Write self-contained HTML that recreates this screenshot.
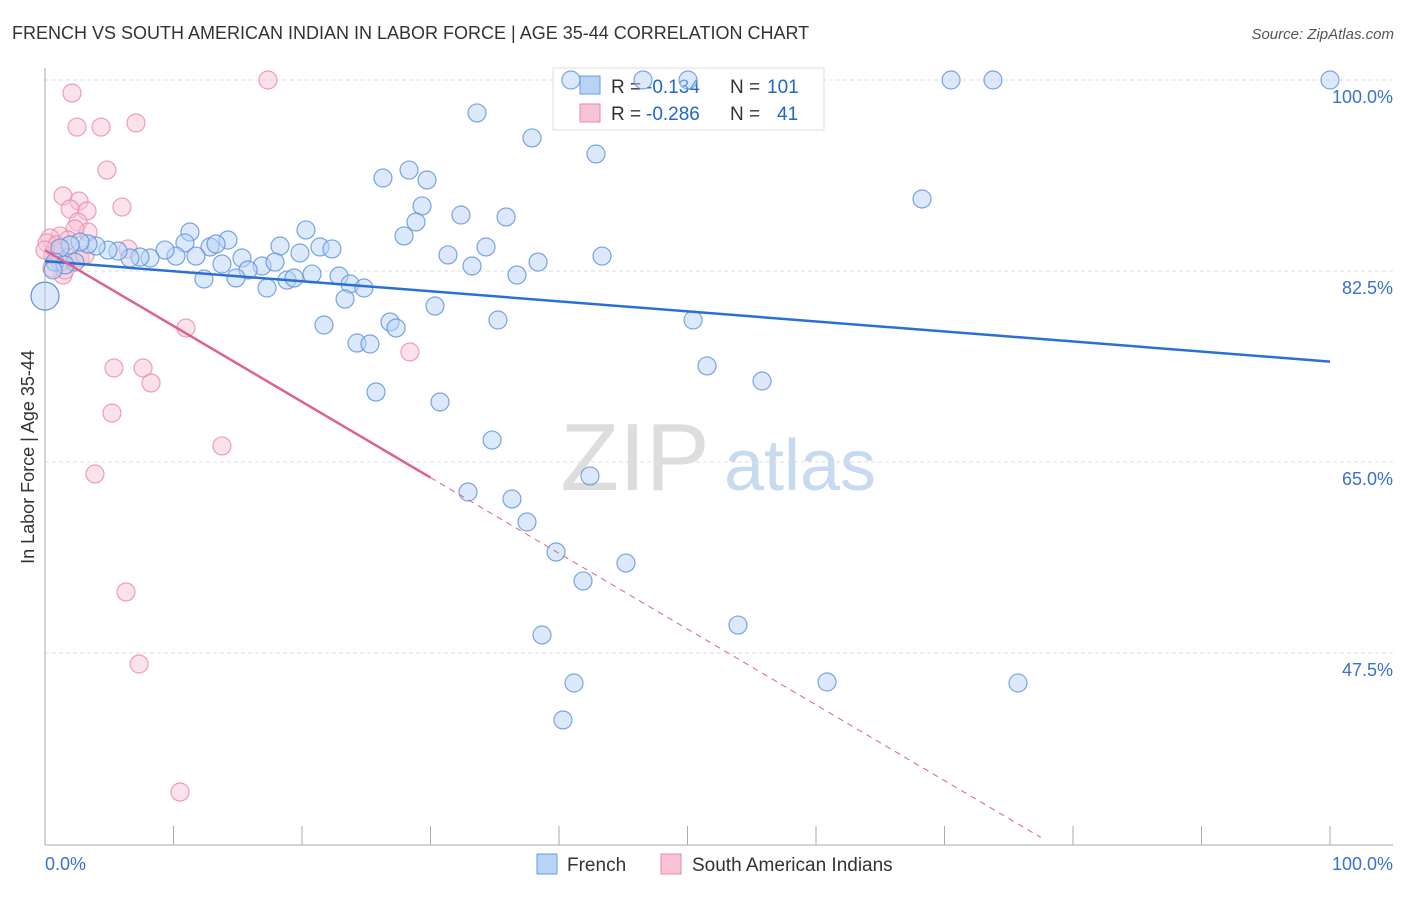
<!DOCTYPE html>
<html><head><meta charset="utf-8"><style>
body{margin:0;background:#fff;font-family:"Liberation Sans",sans-serif}
svg text{font-family:"Liberation Sans",sans-serif}
</style></head><body>
<svg id="c" width="1406" height="892">
<text x="12" y="39" font-size="18" fill="#333">FRENCH VS SOUTH AMERICAN INDIAN IN LABOR FORCE | AGE 35-44 CORRELATION CHART</text>
<text x="1394" y="39" font-size="15" fill="#555" text-anchor="end" font-style="italic">Source: ZipAtlas.com</text>
<text x="34" y="457" font-size="18" fill="#333" text-anchor="middle" transform="rotate(-90 34 457)">In Labor Force | Age 35-44</text>
<g><text x="635" y="490" font-size="96" fill="#ddd" font-family="Liberation Serif" text-anchor="middle">ZIP</text><text x="800" y="490" font-size="72" fill="#c8daf0" text-anchor="middle">atlas</text></g>
<g id="grid"></g>
<g>
<rect x="553" y="68" width="271" height="62" fill="#fff" stroke="#ddd"/>
<rect x="580" y="76" width="20" height="18" fill="#b8d4f5" stroke="#6a9de0"/>
<rect x="580" y="104" width="20" height="18" fill="#f8c4d4" stroke="#e88aa8"/>
<text x="611" y="93" font-size="19" fill="#333">R =</text><text x="646" y="93" font-size="19" fill="#2266cc">-0.134</text>
<text x="730" y="93" font-size="19" fill="#333">N =</text><text x="767" y="93" font-size="19" fill="#2266cc">101</text>
<text x="611" y="120" font-size="19" fill="#333">R =</text><text x="646" y="120" font-size="19" fill="#2266cc">-0.286</text>
<text x="730" y="120" font-size="19" fill="#333">N =</text><text x="777" y="120" font-size="19" fill="#2266cc">41</text>
</g>
<g id="marks"></g>
<g>
<rect x="537" y="854" width="20" height="20" fill="#b8d4f5" stroke="#6a9de0"/>
<text x="567" y="871" font-size="19" fill="#333">French</text>
<rect x="661" y="854" width="20" height="20" fill="#f8c4d4" stroke="#e88aa8"/>
<text x="692" y="871" font-size="19" fill="#333">South American Indians</text>
</g>
</svg>
<script>
const yTicks=[100,82.5,65,47.5];
const yTickLabels=["100.0%","82.5%","65.0%","47.5%"];
const xTicks=[0,10,20,30,40,50,60,70,80,90,100];
const xTickLabels=["0.0%","100.0%"];
const frenchPx=[[571,80],[643,80],[688,80],[951,80],[993,80],[1330,80],[477,113],[532,138],[596,154],[383,178],[409,170],[427,180],[922,199],[422,206],[461,215],[506,217],[416,222],[404,236],[306,230],[190,232],[228,240],[185,243],[210,247],[216,244],[280,246],[320,247],[332,249],[300,253],[486,247],[448,255],[538,262],[602,256],[196,256],[176,256],[165,250],[150,258],[140,257],[130,258],[118,251],[108,250],[96,246],[88,244],[80,242],[70,245],[60,248],[55,262],[75,262],[65,265],[53,270],[242,258],[222,264],[262,266],[275,262],[248,270],[236,278],[204,279],[267,288],[287,280],[294,278],[312,274],[339,276],[350,284],[364,288],[345,299],[517,275],[472,266],[435,306],[324,325],[390,322],[396,328],[498,320],[693,320],[357,343],[370,344],[707,366],[762,381],[376,392],[440,402],[492,440],[590,476],[468,492],[512,499],[527,522],[556,552],[626,563],[583,581],[542,635],[738,625],[574,683],[827,682],[1018,683],[563,720]];
const saiPx=[[268,80],[72,93],[77,127],[101,127],[136,123],[107,170],[63,196],[79,201],[122,207],[70,209],[87,211],[78,222],[88,232],[75,229],[60,236],[50,238],[47,243],[55,250],[68,258],[80,258],[63,275],[52,268],[128,249],[186,328],[410,352],[114,368],[143,368],[151,383],[112,413],[222,446],[95,474],[126,592],[139,664],[180,792],[65,270],[53,255],[85,255],[57,245],[68,240],[45,250],[60,262]];
const frenchX=frenchPx.map(p=>+((p[0]-45)/12.85).toFixed(2));
const frenchY=frenchPx.map(p=>+(100-(p[1]-80)/10.914).toFixed(2));
const saiX=saiPx.map(p=>+((p[0]-45)/12.85).toFixed(2));
const saiY=saiPx.map(p=>+(100-(p[1]-80)/10.914).toFixed(2));
const frenchTrend=[83.4,74.2];
const saiTrend=[84.4,30.6];
const X=v=>45+v*12.85, Y=v=>80+(100-v)*10.914;
const NS="http://www.w3.org/2000/svg";
function mk(t,a,p){const e=document.createElementNS(NS,t);for(const k in a)e.setAttribute(k,a[k]);p.appendChild(e);return e;}
const g=document.getElementById('grid'), m=document.getElementById('marks');
yTicks.forEach((t,i)=>{
 const l=mk('line',{x1:45,x2:1393,y1:Y(t),y2:Y(t),stroke:'#ddd','stroke-dasharray':'4 3'},g);
 
 
 const tx=mk('text',{x:1393,y:Y(t)+23,'font-size':18,fill:'#3a70d0','text-anchor':'end'},g);tx.textContent=yTickLabels[i];
 
 
});
const ax=mk('line',{x1:45,x2:45,y1:68,y2:845,stroke:'#aaa'},g);


const bx=mk('line',{x1:45,x2:1393,y1:845,y2:845,stroke:'#aaa'},g);


xTicks.forEach(t=>{const l=mk('line',{x1:X(t),x2:X(t),y1:826,y2:845,stroke:'#aaa'},g);
 
 });
[[0,'start'],[100,'end']].forEach((a,i)=>{const tx=mk('text',{x:i?1393:45,y:870,'font-size':18,fill:'#3a70d0','text-anchor':a[1]},g);tx.textContent=xTickLabels[i];
 
 });
function pts(xs,ys,fill,stroke,name){xs.forEach((x,i)=>{
 const c=mk('circle',{cx:X(x),cy:Y(ys[i]),r:9,fill:fill,'fill-opacity':0.5,stroke:stroke,'stroke-opacity':0.8,'stroke-width':1.2},m);
 
 });}
pts(saiX,saiY,'#f8c4d4','#e88aa8','sai-point');
pts(frenchX,frenchY,'#b8d4f5','#5a90dd','french-point');
const big=mk('circle',{cx:X(0),cy:Y(80.2),r:14,fill:'#b8d4f5','fill-opacity':0.5,stroke:'#5a90dd','stroke-width':1.2},m);


const ft=mk('line',{x1:X(0),y1:Y(frenchTrend[0]),x2:X(100),y2:Y(frenchTrend[1]),stroke:'#2a6fd6','stroke-width':2.5},m);


const sl=(saiTrend[1]-saiTrend[0])/77.5, sy=x=>saiTrend[0]+sl*x;
const st=mk('line',{x1:X(0),y1:Y(sy(0)),x2:X(30),y2:Y(sy(30)),stroke:'#e0608e','stroke-width':2.5},m);


const sd=mk('line',{x1:X(30),y1:Y(sy(30)),x2:X(77.5),y2:Y(sy(77.5)),stroke:'#e0608e','stroke-width':1,'stroke-dasharray':'6 5'},m);


</script>
</body></html>
